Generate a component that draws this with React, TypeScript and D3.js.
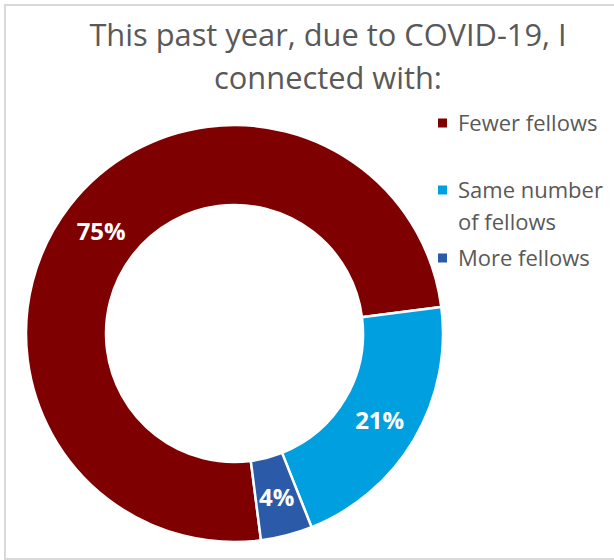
import React from "react";
import * as d3 from "d3";

const categories = ["Fewer fellows", "Same number of fellows", "More fellows"];
const legendLines = [["Fewer fellows"], ["Same number", "of fellows"], ["More fellows"]];
const values = [75, 21, 4];
const labels = ["75%", "21%", "4%"];
const colors = ["#7f0000", "#009fdf", "#2b5ba8"];
const titleLines = ["This past year, due to COVID-19, I", "connected with:"];

const W = 614;
const H = 560;
const cx = 234.5;
const cy = 333.5;
const outerR = 208.5;
const innerR = 128.5;
const startDeg = 172.7;

export default function App() {
  const start = (startDeg * Math.PI) / 180;
  const pie = d3
    .pie<number>()
    .sort(null)
    .value((d) => d)
    .startAngle(start)
    .endAngle(start + 2 * Math.PI);
  const arcs = pie(values);
  const arc = d3.arc<d3.PieArcDatum<number>>().innerRadius(innerR).outerRadius(outerR);

  const legendY = [123, 190, 258];
  const font = "'Open Sans', 'Noto Sans', sans-serif";

  return (
    <svg
      width={W}
      height={H}
      style={{ position: "absolute", left: 0, top: 0, background: "#fff" }}
      fontFamily={font}
    >
      <rect x={5} y={5} width={W + 10} height={554} fill="#fff" stroke="#d9d9d9" strokeWidth={2} />
      {titleLines.map((t, i) => (
        <text key={i} x={328} y={46 + i * 43} textAnchor="middle" fontSize={30.8} fill="#595959">
          {t}
        </text>
      ))}
      <g transform={`translate(${cx},${cy})`}>
        {arcs.map((a, i) => (
          <path key={i} d={arc(a) || ""} fill={colors[i]} stroke="#fff" strokeWidth={2.5} />
        ))}
        {arcs.map((a, i) => {
          const [x, y] = arc.centroid(a);
          return (
            <text
              key={"l" + i}
              x={x}
              y={y}
              textAnchor="middle"
              dominantBaseline="central"
              fontSize={24}
              fontWeight="bold"
              fill="#fff"
            >
              {labels[i]}
            </text>
          );
        })}
      </g>
      {categories.map((c, i) => (
        <g key={c}>
          <rect x={438} y={legendY[i] - 4.5} width={9} height={9} fill={colors[i]} />
          {legendLines[i].map((ln, j) => (
            <text key={j} x={458} y={legendY[i] + 8 + j * 32} fontSize={22} fill="#595959">
              {ln}
            </text>
          ))}
        </g>
      ))}
    </svg>
  );
}
